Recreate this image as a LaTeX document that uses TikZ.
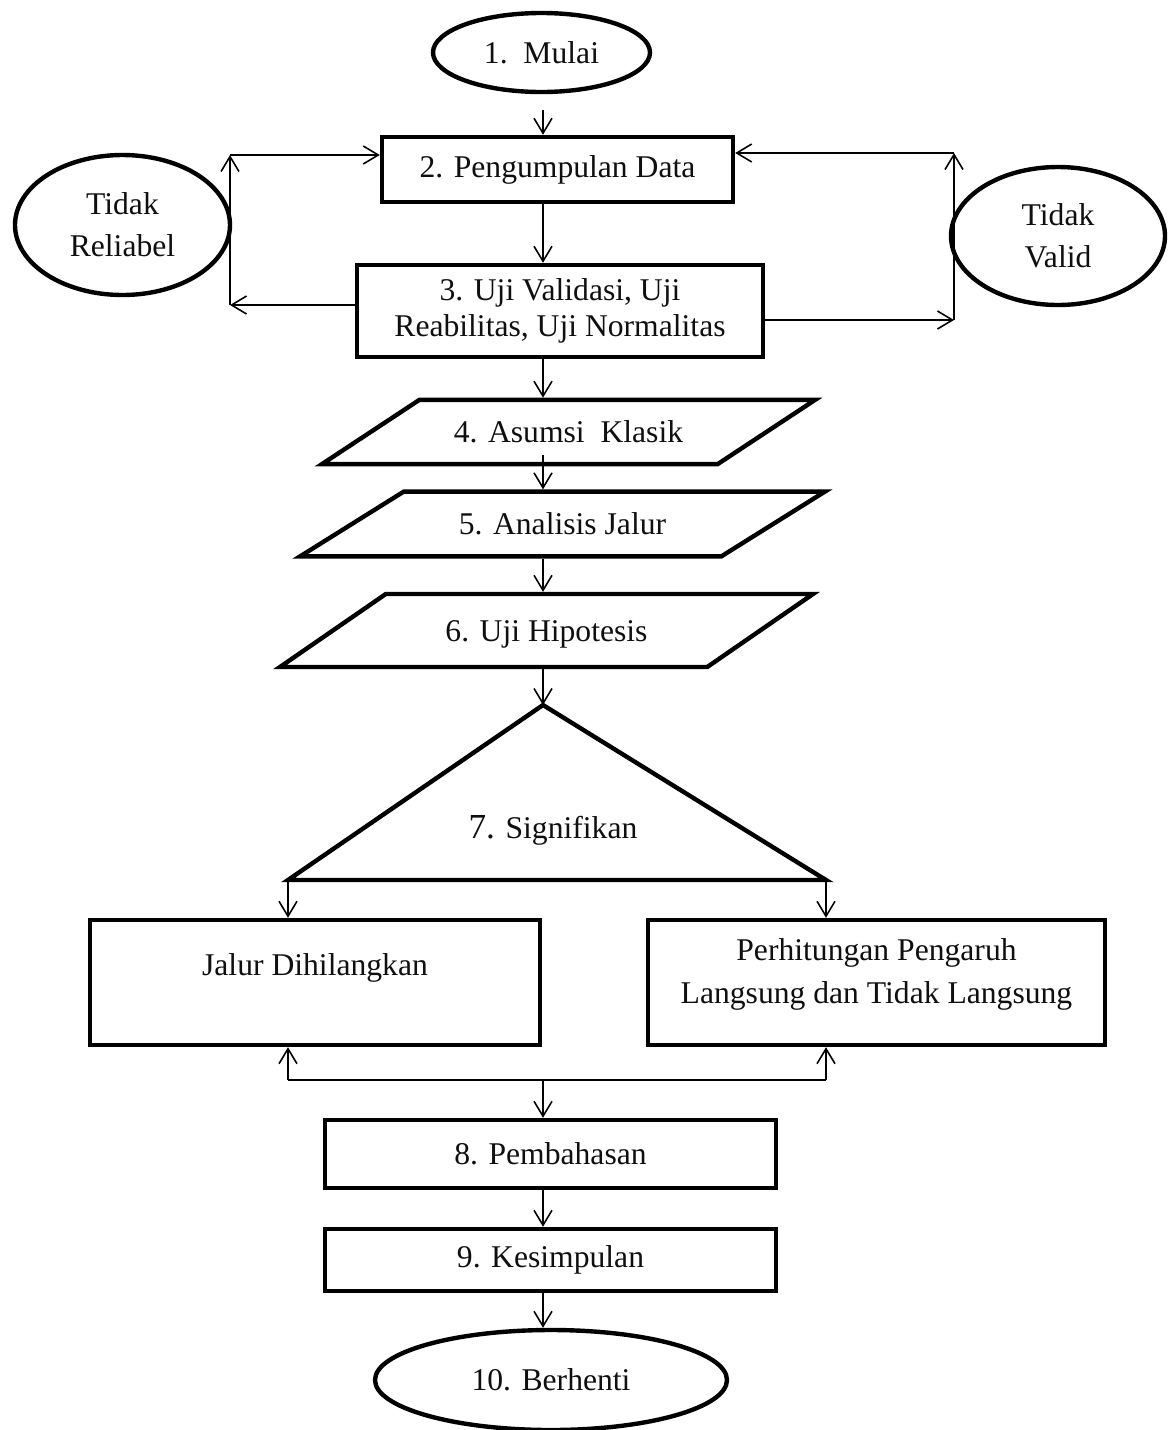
\documentclass[tikz,border=0pt]{standalone}
\usepackage{fontspec}
\setmainfont{Liberation Serif}
\usepackage{tikz}
\usetikzlibrary{
  shapes.geometric,
  arrows.meta,
  positioning,
  calc
}
\definecolor{linecolor}{RGB}{0, 0, 0}
\definecolor{labelcolor}{RGB}{15, 15, 15}
\tikzset{
blocktext/.style={
  align=center,
  font=\fontsize{18}{24}\selectfont,
  text=labelcolor
},
procblock/.style={
  draw=linecolor,
  rectangle,
  line width=2.5pt,
  inner sep=0pt,
  blocktext
},
termblock/.style={
  draw=linecolor,
  ellipse,
  line width=2.5pt,
  inner sep=0pt,
  blocktext
},
ioblock/.style={
  draw=linecolor,
  trapezium,
  trapezium stretches body,
  line width=2.5pt,
  inner xsep=0pt,
  text height=16.5pt,
  text depth=4pt,
  blocktext
}
}

\begin{document}
\begin{tikzpicture}[
      arrow/.style={-{Straight Barb[length=3mm,width=3.6mm]}, line width=0.9pt, draw=linecolor},
      plainline/.style={line width=0.9pt, draw=linecolor},
      edge/.style={draw=linecolor, line width=2.5pt, line join=miter}
    ]
      \useasboundingbox (0,0) rectangle (23.34,-28.6);
      \coordinate (axis) at (10.86,0);

      \node[termblock, minimum width=4.34cm, minimum height=1.58cm] (mulai) at (10.83,-1.05) {1.\ \ Mulai};
      \node[procblock, minimum width=7.02cm, minimum height=1.30cm] (b2) at (11.15,-3.39) {2. Pengumpulan Data};
      \node[procblock, minimum width=8.12cm, minimum height=1.84cm, font=\fontsize{18}{20.5}\selectfont] (b3) at (11.20,-6.22) {3. Uji Validasi, Uji\\Reabilitas, Uji Normalitas};
      \node[termblock, minimum width=4.30cm, minimum height=2.80cm] (rel) at (2.45,-4.50) {Tidak\\Reliabel};
      \node[termblock, minimum width=4.28cm, minimum height=2.76cm] (val) at (21.16,-4.72) {Tidak\\Valid};

      \node[ioblock, trapezium left angle=33.4, trapezium right angle=146.6,
            minimum width=9.86cm, inner ysep=8.0pt] (p4) at (11.37,-8.64) {4. Asumsi\ \ Klasik};
      \node[ioblock, trapezium left angle=32, trapezium right angle=148,
            minimum width=10.50cm, inner ysep=8.2pt] (p5) at (11.25,-10.48) {5. Analisis Jalur};
      \node[ioblock, trapezium left angle=34.6, trapezium right angle=145.4,
            minimum width=10.66cm, inner ysep=10.5pt] (p6) at (10.93,-12.61) {6. Uji Hipotesis};

      \coordinate (t7a) at (10.86,-14.10);
      \coordinate (t7l) at (5.76,-17.60);
      \coordinate (t7r) at (16.52,-17.60);
      \draw[edge] (t7a) -- (t7r) -- (t7l) -- cycle;
      \node[blocktext] (sig) at (11.06,-16.60) {{\fontsize{20}{24}\selectfont 7.} Signifikan};

      \node[procblock, minimum width=9.00cm, minimum height=2.50cm, text depth=20pt] (jd) at (6.30,-19.65) {Jalur Dihilangkan};
      \node[procblock, minimum width=9.14cm, minimum height=2.50cm, text depth=13pt] (ph) at (17.53,-19.65) {Perhitungan Pengaruh\\Langsung dan Tidak Langsung};

      \node[procblock, minimum width=9.02cm, minimum height=1.36cm] (b8) at (11.01,-23.08) {8. Pembahasan};
      \node[procblock, minimum width=9.02cm, minimum height=1.24cm] (b9) at (11.01,-25.20) {9. Kesimpulan};
      \node[termblock, minimum width=7.04cm, minimum height=2.00cm] (stop) at (11.02,-27.60) {10. Berhenti};

      \draw[arrow, shorten <=3.2mm] (mulai.south -| axis) -- (b2.north -| axis);
      \draw[arrow] (b2.south -| axis) -- (b3.north -| axis);
      \draw[arrow] (b3.south -| axis) -- (p4.north -| axis);
      \draw[arrow, shorten <=-2.2mm] (p4.south -| axis) -- (p5.north -| axis);
      \draw[arrow] (p5.south -| axis) -- (p6.north -| axis);
      \draw[arrow] (p6.south -| axis) -- (t7a);

      \coordinate (lt) at (4.60,-3.10);
      \coordinate (lb) at (4.60,-6.10);
      \draw[arrow] (b3.west |- lb) -- (lb);
      \draw[arrow] (lb) -- (lt);
      \draw[arrow] (lt) -- (lt -| b2.west);

      \coordinate (rt) at (19.08,-3.06);
      \coordinate (rb) at (19.08,-6.40);
      \draw[arrow] (b3.east |- rb) -- (rb);
      \draw[arrow] (rb) -- (rt);
      \draw[arrow] (rt) -- (rt -| b2.east);

      \draw[arrow] (t7l) -- (t7l |- jd.north);
      \draw[arrow] (t7r) -- (t7r |- ph.north);

      \coordinate (ql) at (5.76,-21.60);
      \coordinate (qr) at (16.52,-21.60);
      \draw[arrow] (ql) -- (ql |- jd.south);
      \draw[plainline] (ql) -- (qr);
      \draw[arrow] (qr) -- (qr |- ph.south);
      \draw[arrow] (ql -| axis) -- (b8.north -| axis);

      \draw[arrow] (b8.south -| axis) -- (b9.north -| axis);
      \draw[arrow] (b9.south -| axis) -- (stop.north -| axis);
    \end{tikzpicture}
\end{document}
